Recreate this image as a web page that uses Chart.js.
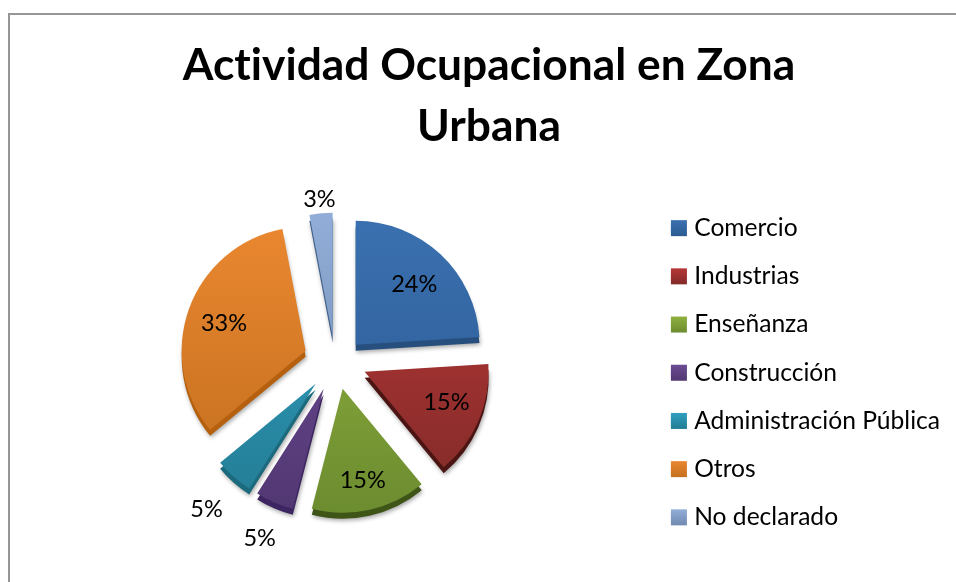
<!DOCTYPE html>
<html>
<head>
<meta charset="utf-8">
<script src="https://cdn.jsdelivr.net/npm/chart.js@4"></script>
<style>
  html, body { margin: 0; background: #fff; overflow: hidden; }
  #frame { position: absolute; left: 8px; top: 13px; width: 958px; height: 569px; border-left: 2px solid #969696; border-top: 2px solid #969696; }
</style>
</head>
<body>
<div id="frame"><canvas id="chart"></canvas></div>
<script>
const chartTitle = ["Actividad Ocupacional en Zona", "Urbana"];
const categories = ["Comercio", "Industrias", "Enseñanza", "Construcción", "Administración Pública", "Otros", "No declarado"];
const values = [24, 15, 15, 5, 5, 33, 3];

// look of each slice: light top, dark bottom, side wall
const topColors = ["#3b70b0", "#b53636", "#8fb03e", "#6c4b94", "#2f9fc0", "#ea8730", "#92aed8"];
const bottomColors = ["#2a5b92", "#822b29", "#6c8c30", "#513772", "#247c94", "#c4701f", "#7089b0"];
const sideColors = ["#274f7e", "#4a1512", "#3f5518", "#3c2560", "#1c6a7d", "#b5600f", "#3f5f8c"];
const explodeX = [20, 29, 7, -12, -20, -30, -3];
const explodeY = [-15, 12, 29, 29, 24, -9, -23];
const labelDistance = [0.69, 0.7, 0.74, 1.3, 1.33, 0.7, 1.13];
const labelTurn = [0, -4, 0, 0, 0, 0, 0]; // degrees
const depth = 6;
const pieNudge = [-2, -13];

function verticalFill(ctx, y0, y1, i) {
  let g = ctx.createLinearGradient(0, y0, 0, y1);
  g.addColorStop(0, topColors[i]);
  g.addColorStop(1, bottomColors[i]);
  return g;
}

function shiftFor(arc, i) {
  let p = arc.getProps(["x", "y", "startAngle", "endAngle", "outerRadius"], true);
  p.mid = (p.startAngle + p.endAngle) / 2;
  p.dx = pieNudge[0] + explodeX[i];
  p.dy = pieNudge[1] + explodeY[i];
  return p;
}

const slicePlugin = {
  id: "slices",
  beforeDraw(chart) {
    // no ti ligature in the title
    chart.ctx.textRendering = "optimizeSpeed";
  },
  beforeDatasetDraw(chart) {
    // exploded slices: the library's offset option can't move them this far
    let ctx = chart.ctx;
    chart.getDatasetMeta(0).data.forEach((arc, i) => {
      let p = shiftFor(arc, i);
      let base = arc.options;

      ctx.save();
      ctx.shadowColor = "rgba(0,0,0,0.35)";
      ctx.shadowBlur = 4;
      ctx.shadowOffsetX = 1;
      ctx.shadowOffsetY = 2;
      ctx.translate(p.dx, p.dy + depth);
      arc.options = Object.assign({}, base, { backgroundColor: sideColors[i] });
      arc.draw(ctx);
      ctx.restore();

      ctx.save();
      ctx.translate(p.dx, p.dy);
      arc.options = Object.assign({}, base, {
        backgroundColor: verticalFill(ctx, p.y - p.outerRadius, p.y + p.outerRadius, i)
      });
      arc.draw(ctx);
      ctx.restore();
      arc.options = base;
    });
    return false;
  },
  afterDatasetsDraw(chart) {
    let ctx = chart.ctx;
    ctx.save();
    ctx.fillStyle = "#000";
    ctx.font = "23.5px Lato";
    ctx.textAlign = "center";
    ctx.textBaseline = "middle";
    chart.getDatasetMeta(0).data.forEach((arc, i) => {
      let p = shiftFor(arc, i);
      let d = p.outerRadius * labelDistance[i];
      let a = p.mid + labelTurn[i] * Math.PI / 180;
      ctx.fillText(values[i] + "%", p.x + p.dx + Math.cos(a) * d, p.y + p.dy + Math.sin(a) * d + 2);
    });
    ctx.restore();
  },
  afterDraw(chart) {
    // legend swatches get the same light to dark fill
    let ctx = chart.ctx;
    chart.legend.legendHitBoxes.forEach((box, i) => {
      let size = 16;
      let y = box.top + (box.height - size) / 2;
      ctx.fillStyle = "#fff";
      ctx.fillRect(box.left, y - 1, size, size + 2);
      ctx.fillStyle = verticalFill(ctx, y, y + size, i);
      ctx.fillRect(box.left, y, size, size);
    });
  }
};

new Chart(document.getElementById("chart"), {
  type: "pie",
  data: {
    labels: categories,
    datasets: [{
      data: values,
      backgroundColor: topColors,
      borderWidth: 0,
      radius: 124
    }]
  },
  options: {
    responsive: true,
    maintainAspectRatio: false,
    animation: false,
    layout: { padding: { bottom: 9, left: 18, right: 18 } },
    plugins: {
      tooltip: { enabled: false },
      title: {
        display: true,
        text: chartTitle,
        color: "#000",
        font: { family: "Lato", size: 44.3, weight: "bold", lineHeight: 1.36 },
        padding: { top: 21, bottom: 14 }
      },
      legend: {
        position: "right",
        fullSize: false,
        labels: {
          boxWidth: 11,
          boxHeight: 11,
          padding: 23.6,
          color: "#000",
          font: { family: "Lato", size: 24.6 }
        }
      }
    }
  },
  plugins: [slicePlugin]
});
</script>
</body>
</html>
